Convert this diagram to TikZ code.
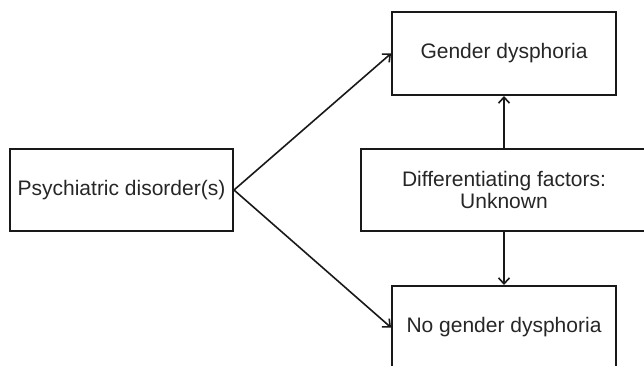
\documentclass[tikz,border=0pt]{standalone}
\usepackage{fontspec}
\setmainfont{Liberation Sans}
\usetikzlibrary{arrows.meta}
\begin{document}
\begin{tikzpicture}[x=1pt,y=-1pt,
  box/.style={draw=black!90, line width=2pt, rectangle, inner sep=0pt, align=center,
    font=\fontsize{21}{22.5}\selectfont, text=black!85},
  conn/.style={draw=black!90, line width=1.6pt, -{Straight Barb[length=6pt,width=11pt,line width=1.6pt]}}]
\useasboundingbox (0,0) rectangle (644,365);
\node[box, minimum width=223pt, minimum height=82pt] (psy) at (121.5,190) {Psychiatric disorder(s)};
\node[box, minimum width=224pt, minimum height=83pt] (gd) at (504,53.5) {Gender dysphoria};
\node[box, minimum width=286pt, minimum height=82pt] (df) at (504,190) {Differentiating factors:\\Unknown};
\node[box, minimum width=224pt, minimum height=83pt] (ngd) at (504,327.5) {No gender dysphoria};
\draw[conn] (psy.east) -- (gd.west);
\draw[conn] (psy.east) -- (ngd.west);
\draw[conn] (df.north) -- (gd.south);
\draw[conn] (df.south) -- (ngd.north);
\end{tikzpicture}
\end{document}
